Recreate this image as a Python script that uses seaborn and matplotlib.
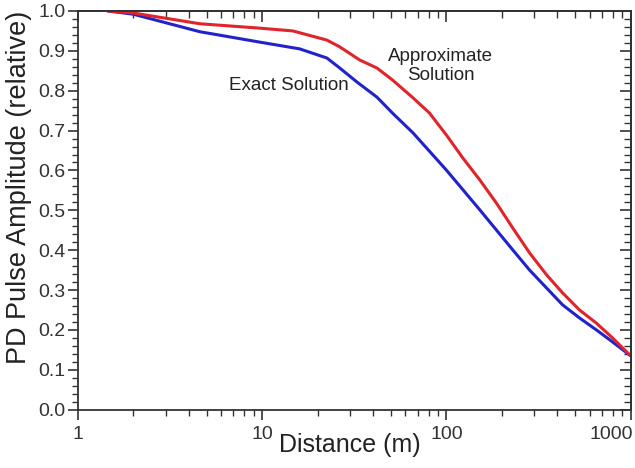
import numpy as np
import pandas as pd
import matplotlib
matplotlib.use("Agg")
import matplotlib.pyplot as plt
import matplotlib.ticker as mticker
import matplotlib.transforms as mtransforms
import seaborn as sns

# ---- data ----
exact_x = [1.46, 2.0, 4.6, 9.7, 16, 22.5, 26.4, 32.7, 42, 51, 66, 100, 152, 229, 283, 350, 427, 528, 652, 797, 1000]
exact_y = [1.0, 0.992, 0.948, 0.922, 0.905, 0.882, 0.857, 0.822, 0.784, 0.744, 0.694, 0.601, 0.501, 0.401, 0.350, 0.305, 0.263, 0.230, 0.200, 0.170, 0.135]

approx_x = [1.46, 2.0, 4.6, 9.7, 14.7, 22.5, 26.4, 33.9, 42, 51, 66, 81, 100, 123, 152, 187, 229, 283, 350, 427, 528, 652, 797, 1000]
approx_y = [1.0, 0.995, 0.968, 0.957, 0.950, 0.927, 0.910, 0.877, 0.857, 0.827, 0.782, 0.744, 0.689, 0.631, 0.576, 0.518, 0.456, 0.393, 0.338, 0.293, 0.250, 0.217, 0.180, 0.135]

x_ticks = [1, 10, 100, 1000]
x_tick_labels = ["1", "10", "100", "1000"]
y_ticks = [0.0, 0.1, 0.2, 0.3, 0.4, 0.5, 0.6, 0.7, 0.8, 0.9, 1.0]
y_tick_labels = [f"{v:.1f}" for v in y_ticks]

labels = {"exact": "Exact Solution", "approx": "Approximate\nSolution"}
xlabel = "Distance (m)"
ylabel = "PD Pulse Amplitude (relative)"

df = pd.concat([
    pd.DataFrame({"x": exact_x, "y": exact_y, "series": "Exact"}),
    pd.DataFrame({"x": approx_x, "y": approx_y, "series": "Approx"}),
])

sns.set_style("ticks")
plt.rcParams["font.family"] = ["Liberation Sans", "DejaVu Sans"]

fig = plt.figure(figsize=(6.35, 4.68), dpi=100)
ax = fig.add_axes([0.1224, 0.1246, 0.8708, 0.8519])

palette = {"Exact": "#2222cc", "Approx": "#e0242a"}
sns.lineplot(data=df, x="x", y="y", hue="series", palette=palette,
             linewidth=2.2, legend=False, ax=ax, sort=False, estimator=None)

ax.set_xscale("log")
ax.set_xlim(1, 1000)
ax.set_ylim(0, 1.0)

ax.set_xticks(x_ticks)
ax.set_xticklabels(x_tick_labels)
ax.xaxis.set_minor_locator(mticker.LogLocator(base=10, subs=np.arange(2, 10)))
ax.xaxis.set_minor_formatter(mticker.NullFormatter())
ax.set_yticks(y_ticks)
ax.set_yticklabels(y_tick_labels)
ax.yaxis.set_minor_locator(mticker.MultipleLocator(0.02))

ax.tick_params(axis="both", which="major", direction="out", length=7, width=1.2,
               labelsize=14, colors="#333333", labelcolor="#333333")
ax.tick_params(axis="x", which="major", pad=5)
ax.tick_params(axis="y", which="major", pad=2)
ax.tick_params(axis="both", which="minor", direction="out", length=4, width=1.0,
               colors="#333333")
last = ax.get_xticklabels()[-1]
last.set_ha("right")
last.set_transform(last.get_transform() +
                   mtransforms.ScaledTranslation(0.02, 0, fig.dpi_scale_trans))

ax.set_xlabel(xlabel, fontsize=18, color="#222222")
ax.set_ylabel(ylabel, fontsize=19.5, color="#222222")
ax.xaxis.set_label_coords(0.4915, -0.058)
ax.yaxis.set_label_coords(-0.083, 0.557)

for sp in ax.spines.values():
    sp.set_visible(True)
    sp.set_linewidth(1.3)
    sp.set_color("#333333")

# top and right ticks, pointing inward
secx = ax.secondary_xaxis("top")
secx.set_xticks(x_ticks)
secx.xaxis.set_minor_locator(mticker.LogLocator(base=10, subs=np.arange(2, 10)))
secx.tick_params(axis="x", which="major", direction="in", length=8, width=1.2,
                 labeltop=False, colors="#333333")
secx.tick_params(axis="x", which="minor", direction="in", length=5, width=1.0,
                 labeltop=False, colors="#333333")
secx.xaxis.set_minor_formatter(mticker.NullFormatter())
secx.spines["top"].set_linewidth(1.3)

secy = ax.secondary_yaxis("right")
secy.set_yticks(y_ticks)
secy.yaxis.set_minor_locator(mticker.MultipleLocator(0.02))
secy.tick_params(axis="y", which="major", direction="in", length=8, width=1.2,
                 labelright=False, colors="#333333")
secy.tick_params(axis="y", which="minor", direction="in", length=5, width=1.0,
                 labelright=False, colors="#333333")
secy.spines["right"].set_linewidth(1.3)

ax.text(14, 0.814, labels["exact"], fontsize=13.5, color="#222222",
        ha="center", va="center")
ax.text(93, 0.862, labels["approx"], fontsize=13.5, color="#222222",
        ha="center", va="center", linespacing=1.1)

fig.savefig("out.png", dpi=100)
